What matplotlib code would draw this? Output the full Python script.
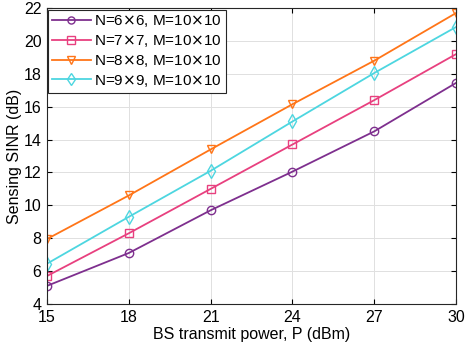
import matplotlib.pyplot as plt
import numpy as np

plt.rcParams['font.family'] = ['Liberation Sans', 'DejaVu Sans']

P = [15, 18, 21, 24, 27, 30]
sinr_6 = [5.1, 7.1, 9.7, 12.05, 14.5, 17.45]
sinr_7 = [5.7, 8.3, 11.0, 13.7, 16.4, 19.2]
sinr_8 = [7.95, 10.6, 13.4, 16.15, 18.8, 21.7]
sinr_9 = [6.45, 9.3, 12.1, 15.1, 18.05, 20.85]

labels = ['N=6$\\times$6, M=10$\\times$10', 'N=7$\\times$7, M=10$\\times$10',
          'N=8$\\times$8, M=10$\\times$10', 'N=9$\\times$9, M=10$\\times$10']

fs = 11.5
fig = plt.figure(figsize=(4.65, 3.49), dpi=100)
ax = fig.add_axes([0.101, 0.129, 0.880, 0.848])

ax.plot(P, sinr_6, '-o', color='#7E2F8E', mfc='none', ms=6, lw=1.3, label=labels[0])
ax.plot(P, sinr_7, '-s', color='#E8407F', mfc='none', ms=6, lw=1.3, label=labels[1])
ax.plot(P, sinr_8, '-v', color='#FF7518', mfc='none', ms=6, lw=1.3, label=labels[2])
ax.plot(P, sinr_9, '-d', color='#4DD6E0', mfc='none', ms=7, lw=1.3, label=labels[3])

ax.set_xlim(15, 30)
ax.set_ylim(4, 22)
ax.set_xticks(P)
ax.set_yticks(np.arange(4, 23, 2))
ax.grid(True, color='#e0e0e0', lw=0.7)
ax.set_axisbelow(True)
ax.tick_params(direction='in', top=True, right=True, labelsize=fs, pad=4)
for s in ax.spines.values():
    s.set_linewidth(0.8)
    s.set_color('#262626')

ax.set_xlabel('BS transmit power, P (dBm)', fontsize=fs, labelpad=2)
ax.set_ylabel('Sensing SINR (dB)', fontsize=fs, labelpad=1)

leg = ax.legend(loc='upper left', fontsize=11, fancybox=False, framealpha=1,
                edgecolor='#262626', borderaxespad=0.1, handlelength=2.5,
                labelspacing=0.25, borderpad=0.25, handletextpad=0.25,
                markerscale=0.85)
leg.get_frame().set_linewidth(0.8)

fig.savefig('out.png')
